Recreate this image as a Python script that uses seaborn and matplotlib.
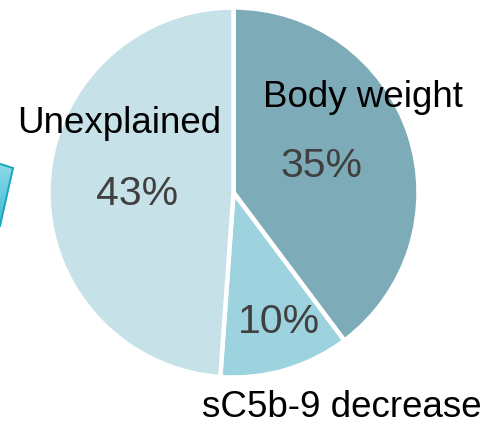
import numpy as np
import matplotlib
matplotlib.use("Agg")
import matplotlib.pyplot as plt
from matplotlib.patches import Polygon
import seaborn as sns

# Contributions to the treatment effect (percent)
categories = ["Body weight", "sC5b-9 decrease", "Unexplained"]
shares = [35, 10, 43]
colors = ["#7DACB8", "#9DD3DF", "#C6E2E8"]

sns.set_theme(style="white")
plt.rcParams["font.family"] = ["Liberation Sans", "DejaVu Sans"]

W, H = 488, 429
fig = plt.figure(figsize=(W / 100, H / 100), dpi=100)
fig.patch.set_facecolor("white")

# pie axes: centre at (233.5, 192.5) px from top-left, radius 185 px
cx, cy, r = 233.5, 192.5, 185
ax = fig.add_axes([(cx - r) / W, (H - cy - r) / H, 2 * r / W, 2 * r / H])
wedges, _ = ax.pie(
    shares,
    colors=colors,
    startangle=90,
    counterclock=False,
    wedgeprops=dict(edgecolor="white", linewidth=3.2),
)
ax.set_xlim(-1.0, 1.0)
ax.set_ylim(-1.0, 1.0)
ax.set_aspect("equal")
ax.axis("off")


def px_text(x, y, s, size, color):
    fig.text(x / W, 1 - y / H, s, ha="center", va="baseline",
             fontsize=size, color=color)


name_pos = {"Body weight": (363, 107), "sC5b-9 decrease": (342, 417),
            "Unexplained": (119, 133)}
pct_pos = {"Body weight": (321.5, 177), "sC5b-9 decrease": (279, 333),
           "Unexplained": (137.5, 205)}
for cat, val in zip(categories, shares):
    px_text(*name_pos[cat], cat, 26.5, "black")
    px_text(*pct_pos[cat], f"{val}%", 29.5, "#404040")

# partial cyan callout shape at the left edge
verts_px = [(-3, 163), (13, 168), (0, 226), (-3, 226)]
verts = [(x / W, 1 - y / H) for x, y in verts_px]
poly = Polygon(verts, closed=True, transform=fig.transFigure,
               facecolor="none", edgecolor="#1AA5BD", linewidth=1.4, zorder=5)
grad = np.linspace(0, 1, 64).reshape(-1, 1)
cmap = matplotlib.colors.LinearSegmentedColormap.from_list(
    "cy", ["#8FDAEA", "#3DBBD3"])
gax = fig.add_axes([0, 0, 1, 1], zorder=4)
gax.axis("off")
gax.set_xlim(0, 1)
gax.set_ylim(0, 1)
im = gax.imshow(grad, cmap=cmap, extent=[0, 15 / W, 1 - 226 / H, 1 - 163 / H],
                origin="upper", aspect="auto")
clip = Polygon(verts, closed=True, transform=fig.transFigure)
im.set_clip_path(clip)
fig.add_artist(poly)

fig.savefig("out.png", dpi=100, facecolor="white")
